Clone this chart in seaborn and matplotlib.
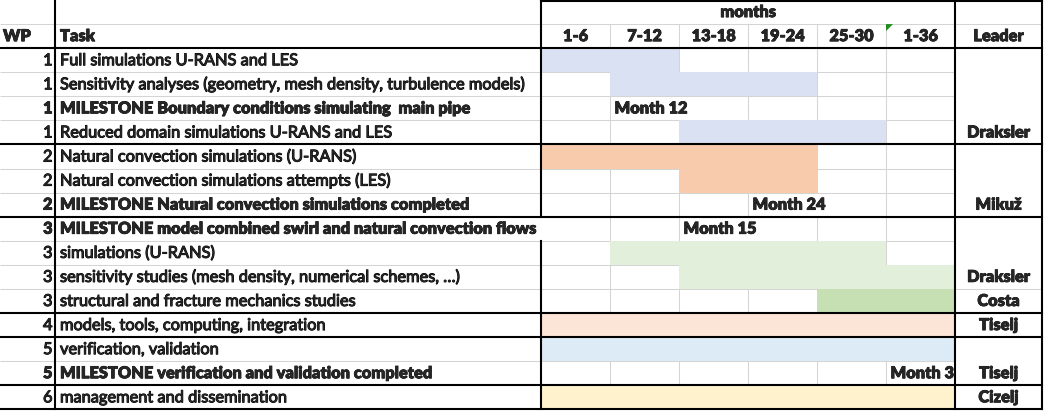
import numpy as np
import matplotlib
matplotlib.use("Agg")
import matplotlib.pyplot as plt
from matplotlib.colors import ListedColormap
from matplotlib.patches import Rectangle
import matplotlib.patheffects as pe
import seaborn as sns

# ---------------- data ----------------
periods = ["1-6", "7-12", "13-18", "19-24", "25-30", "1-36"]
wp = [1, 1, 1, 1, 2, 2, 2, 3, 3, 3, 3, 4, 5, 5, 6]
tasks = [
    "Full simulations U-RANS and LES",
    "Sensitivity analyses (geometry, mesh density, turbulence models)",
    "MILESTONE Boundary conditions simulating  main pipe",
    "Reduced domain simulations U-RANS and LES",
    "Natural convection simulations (U-RANS)",
    "Natural convection simulations attempts (LES)",
    "MILESTONE Natural convection simulations completed",
    "MILESTONE model combined swirl and natural convection flows",
    "simulations (U-RANS)",
    "sensitivity studies (mesh density, numerical schemes, \u2026)",
    "structural and fracture mechanics studies",
    "models, tools, computing, integration",
    "verification, validation",
    "MILESTONE verification and validation completed",
    "management and dissemination",
]
bar_start = [0, 1, None, 2, 0, 2, None, None, 1, 2, 4, 0, 0, None, 0]
bar_end = [2, 4, None, 5, 4, 4, None, None, 5, 6, 6, 6, 6, None, 6]
bar_color = ["#D9E1F2", "#D9E1F2", None, "#D9E1F2", "#F8CBAD", "#F8CBAD", None, None,
             "#E2EFDA", "#E2EFDA", "#C6E0B4", "#FCE4D6", "#DDEBF7", None, "#FFF2CC"]
milestone_period = [None, None, 1, None, None, None, 3, 2, None, None, None, None, None, 5, None]
milestone_label = [None, None, "Month 12", None, None, None, "Month 24", "Month 15",
                   None, None, None, None, None, "Month 36", None]
leaders = ["Draksler", "Miku\u017e", "Draksler", "Costa", "Tiselj", "Tiselj", "Cizelj"]
leader_first = [0, 4, 7, 10, 11, 12, 14]
leader_last = [3, 6, 9, 10, 11, 13, 14]
header_months = "months"
header_wp, header_task, header_leader = "WP", "Task", "Leader"

# ---------------- layout / style ----------------
W, HGT = 1045, 412
PX = 69.0                 # px per period column
X0_PX = 541.0             # left edge of first period column
H = 409.3 / 17            # px per row
X_LEFT = -X0_PX / PX
X_RIGHT = (W - X0_PX) / PX
X_WP = (55 - X0_PX) / PX
X_END = (1042 - X0_PX) / PX
Y_BOTTOM = HGT / H
NHEAD = 2
NROW = len(tasks)
GRAY = "#D4D4D4"
BLACK = "#000000"
LW_B = 1.5
LW_G = 0.75
task_overflow_rows = [7]

sns.set_theme(style="white")
plt.rcParams['font.family'] = ['Lato', 'DejaVu Sans']
FS = 11.8
thick = [pe.withStroke(linewidth=0.7, foreground="black")]
thick_b = [pe.withStroke(linewidth=0.5, foreground="black")]

fig = plt.figure(figsize=(W / 100, HGT / 100), dpi=100)
fig.patch.set_facecolor("white")

# ---- heatmap axes for the coloured cells ----
ntot = NHEAD + NROW
hax = fig.add_axes([X0_PX / W, 1 - ntot * H / HGT, 6 * PX / W, ntot * H / HGT])
hax.set_zorder(1)
palette = []
for c in bar_color:
    if c is not None and c not in palette:
        palette.append(c)
mat = np.full((ntot, len(periods)), np.nan)
for i in range(NROW):
    if bar_start[i] is not None:
        mat[NHEAD + i, bar_start[i]:bar_end[i]] = palette.index(bar_color[i])
sns.heatmap(mat, ax=hax, cmap=ListedColormap(palette), vmin=-0.5, vmax=len(palette) - 0.5,
            cbar=False, xticklabels=False, yticklabels=False, linewidths=0)
hax.set_axis_off()

# gray gridlines under the fills
hidden_v = set()
for i in range(NROW):
    p = milestone_period[i]
    if p is not None and p + 1 < len(periods):
        hidden_v.add((NHEAD + i, p + 1))
for b in range(1, len(periods)):
    for r in range(1, ntot):
        if (r, b) in hidden_v:
            continue
        hax.plot([b, b], [r, r + 1], color=GRAY, lw=LW_G, zorder=0.5, solid_capstyle="butt")
for y in range(1, ntot):
    hax.plot([0, len(periods)], [y, y], color=GRAY, lw=LW_G, zorder=0.5, solid_capstyle="butt")

# ---- top axes: text and borders ----
ax = fig.add_axes([0, 0, 1, 1])
ax.set_zorder(2)
ax.patch.set_alpha(0)
ax.set_xlim(X_LEFT, X_RIGHT)
ax.set_ylim(Y_BOTTOM, 0)
ax.set_axis_off()

# gray horizontal lines in WP/Task columns
wp_change = [i for i in range(1, NROW) if wp[i] != wp[i - 1]]
for y in [1] + [NHEAD + i for i in range(1, NROW) if i not in wp_change]:
    ax.plot([X_LEFT, 0], [y, y], color=GRAY, lw=LW_G, solid_capstyle="butt", zorder=1)
# leader column lines
ax.plot([len(periods), X_END], [1, 1], color=GRAY, lw=LW_G, solid_capstyle="butt", zorder=1)
for last in leader_last[:-1]:
    if (last + 1) not in wp_change:
        y = NHEAD + last + 1
        ax.plot([len(periods), X_END], [y, y], color=GRAY, lw=LW_G, solid_capstyle="butt", zorder=1)

# black horizontal lines
blk = dict(color=BLACK, lw=LW_B, solid_capstyle="projecting", zorder=3)
ax.plot([X_LEFT, X_END], [NHEAD, NHEAD], **blk)
ax.plot([0, X_END], [0.04, 0.04], **blk)
for i in wp_change:
    ax.plot([X_LEFT, X_END], [NHEAD + i, NHEAD + i], **blk)
ax.plot([X_LEFT, X_END], [ntot - 0.02, ntot - 0.02], **blk)

# black vertical lines
for x in [X_WP, len(periods), X_END]:
    ax.plot([x, x], [0, ntot], **blk)
segs = [0]
for r in task_overflow_rows:
    segs += [NHEAD + r, NHEAD + r + 1]
segs.append(ntot)
for a, b in zip(segs[::2], segs[1::2]):
    ax.plot([0, 0], [a, b], **blk)

# excel green corner marker
ax.fill([5, 5 + 7 / PX, 5], [1, 1, 1 + 7 / H], color="#1E8C1E", zorder=4, lw=0)

BASE = 0.71
hdr = dict(va="baseline", fontsize=FS, weight="heavy", path_effects=thick_b)
# headers
ax.text(len(periods) / 2, BASE, header_months, ha="center", **hdr)
ax.text(X_LEFT + 3 / PX, 1 + BASE, header_wp, ha="left", **hdr)
ax.text(X_WP + 5 / PX, 1 + BASE, header_task, ha="left", **hdr)
for j, p in enumerate(periods):
    ax.text(j + 0.5, 1 + BASE, p, ha="center", **hdr)
ax.text((len(periods) + X_END) / 2, 1 + BASE, header_leader, ha="center", **hdr)

# rows
for i in range(NROW):
    y = NHEAD + i + BASE
    ms = tasks[i].startswith("MILESTONE")
    kw = dict(weight="heavy", path_effects=thick_b) if ms else dict(weight="normal", path_effects=thick)
    ax.text(X_WP - 2.5 / PX, y, str(wp[i]), ha="right", va="baseline", fontsize=FS, **kw)
    ax.text(X_WP + 5 / PX, y, tasks[i], ha="left", va="baseline", fontsize=FS, **kw)
    if milestone_label[i] is not None:
        p = milestone_period[i]
        t = ax.text(p + 4.5 / PX, y, milestone_label[i], ha="left", **hdr, clip_on=True)
        if p == len(periods) - 1:
            t.set_clip_path(Rectangle((p, NHEAD + i), 1.0, 1.0, transform=ax.transData))

for name, f, l in zip(leaders, leader_first, leader_last):
    ax.text((len(periods) + X_END) / 2, NHEAD + l + BASE, name, ha="center", **hdr)

fig.savefig("out.png", dpi=100)
